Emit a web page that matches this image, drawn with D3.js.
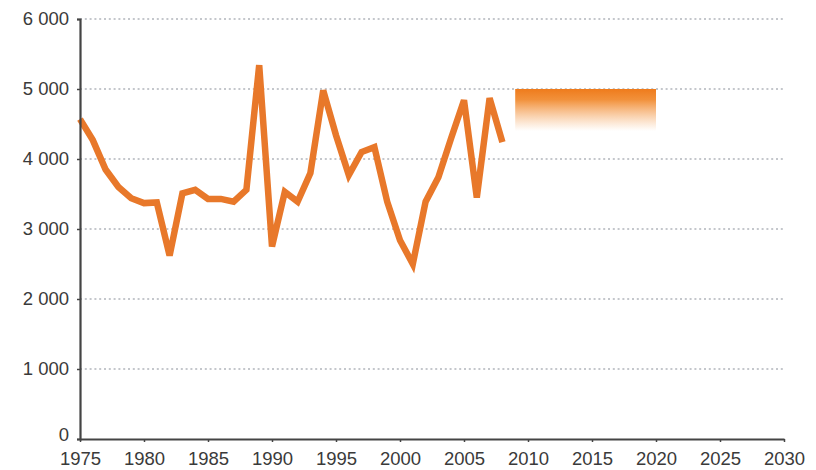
<!DOCTYPE html>
<html>
<head>
<meta charset="utf-8">
<script src="https://cdn.jsdelivr.net/npm/d3@7"></script>
<style>
  html, body { margin: 0; padding: 0; background: #fff; }
  svg { display: block; }
  .tick text { font-family: "Liberation Sans", Arial, sans-serif; font-size: 18.5px; fill: #3a3a3a; }
</style>
</head>
<body>
<svg id="chart" width="816" height="470"></svg>
<script>
// Annual values, 1975–2008
const years = d3.range(1975, 2009);
const values = [4570, 4270, 3850, 3600, 3440, 3370, 3380, 2620, 3510, 3560,
                 3430, 3430, 3390, 3560, 5340, 2750, 3530, 3390, 3800, 4980,
                 4340, 3770, 4100, 4170, 3390, 2840, 2500, 3390, 3740, 4300,
                 4840, 3450, 4870, 4240];

// Projected range band
const bandYears = [2009, 2020];
const bandValues = [4400, 5000];

// Axis ticks
const xTicks = [1975, 1980, 1985, 1990, 1995, 2000, 2005, 2010, 2015, 2020, 2025, 2030];
const yTicks = [0, 1000, 2000, 3000, 4000, 5000, 6000];

const svg = d3.select("#chart");
const x = d3.scaleLinear().domain([1975, 2030]).range([80, 784]);
const y = d3.scaleLinear().domain([0, 6000]).range([439, 19]);

const fmt = v => d3.format(",")(v).replace(/,/g, "\u00a0");

// Gradient for the projection band
const defs = svg.append("defs");
const grad = defs.append("linearGradient")
  .attr("id", "bandGrad").attr("x1", 0).attr("y1", 0).attr("x2", 0).attr("y2", 1);
grad.append("stop").attr("offset", "0%").attr("stop-color", "#ef7b1c").attr("stop-opacity", 1);
grad.append("stop").attr("offset", "25%").attr("stop-color", "#f08424").attr("stop-opacity", 0.9);
grad.append("stop").attr("offset", "100%").attr("stop-color", "#f5a35a").attr("stop-opacity", 0);

// Dotted gridlines
svg.append("g")
  .selectAll("line")
  .data(yTicks.filter(d => d > 0))
  .join("line")
  .attr("x1", x(1975)).attr("x2", x(2030))
  .attr("y1", d => y(d)).attr("y2", d => y(d))
  .attr("stroke", "#8a8f99")
  .attr("stroke-width", 1.2)
  .attr("stroke-dasharray", "2,2.8");

// Projection band
svg.append("rect")
  .attr("x", x(bandYears[0]))
  .attr("y", y(bandValues[1]))
  .attr("width", x(bandYears[1]) - x(bandYears[0]))
  .attr("height", y(bandValues[0]) - y(bandValues[1]))
  .attr("fill", "url(#bandGrad)");

// Historical series
const line = d3.line().x((d, i) => x(years[i])).y(d => y(d));
svg.append("path")
  .datum(values)
  .attr("d", line)
  .attr("fill", "none")
  .attr("stroke", "#e8782a")
  .attr("stroke-width", 6.5)
  .attr("stroke-linejoin", "miter")
  .attr("stroke-miterlimit", 4);

// Y axis
const yAxis = svg.append("g")
  .attr("transform", `translate(${x(1975)},0)`)
  .call(d3.axisLeft(y).tickValues(yTicks).tickFormat(fmt).tickSize(3).tickPadding(8));
yAxis.select(".domain").attr("stroke", "#444").attr("stroke-width", 2.2);
yAxis.selectAll(".tick line").attr("stroke", "#444").attr("stroke-width", 1.5);
// the zero label sits slightly above the baseline
yAxis.selectAll(".tick").filter(d => d === 0).select("text").attr("dy", "0.1em");

// X axis
const xAxis = svg.append("g")
  .attr("transform", `translate(0,${y(0)})`)
  .call(d3.axisBottom(x).tickValues(xTicks).tickFormat(d3.format("d")).tickSize(3).tickSizeOuter(0).tickPadding(10));
xAxis.select(".domain").attr("stroke", "#444").attr("stroke-width", 2.2);
xAxis.selectAll(".tick line").attr("stroke", "#444").attr("stroke-width", 1.5);
</script>
</body>
</html>
